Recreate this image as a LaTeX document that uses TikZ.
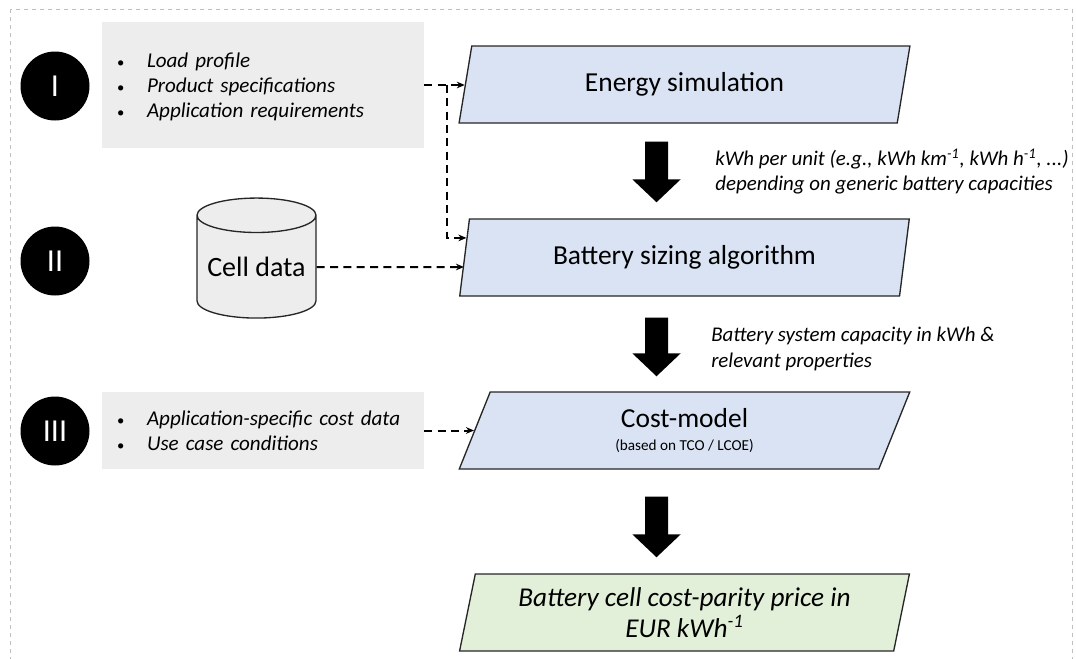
\documentclass[tikz,border=0pt]{standalone}
\usepackage{fontspec}
\setmainfont{Carlito}
\usetikzlibrary{shapes.geometric,arrows.meta,calc}
\definecolor{boxgray}{HTML}{EDEDED}
\definecolor{stepblue}{HTML}{DAE3F3}
\definecolor{stepgreen}{HTML}{E2F0D9}
\definecolor{edge}{HTML}{262626}
\newcommand{\bul}{{\upshape\fontsize{11}{11}\selectfont\textbullet}}
\newcommand{\toppad}{\rule{0pt}{17.6pt}}
\tikzset{every node/.style={inner sep=0pt}}
\tikzset{num/.style={circle,fill=black,text=white,minimum size=51.75pt,font=\fontsize{24}{26}\selectfont}}
\tikzset{inbox/.style={rectangle,fill=boxgray,minimum width=241.5pt,inner xsep=11.25pt,text width=219pt,align=left,font=\fontsize{15.8}{18.75}\selectfont\itshape}}
\tikzset{para/.style={trapezium,trapezium left angle=76,trapezium right angle=104,trapezium stretches=true,draw=edge,line width=1pt,minimum width=338.25pt,minimum height=57.75pt}}
\tikzset{feed/.style={draw=black,line width=1.5pt,dash pattern=on 6pt off 4pt,-{Stealth[length=6pt,width=5pt]}}}
\tikzset{bigarrow/.style={draw=black,line width=17.25pt,-{Triangle[length=17.25pt,width=35.25pt]}}}
\tikzset{note/.style={anchor=west,align=left,font=\fontsize{15.7}{18.75}\selectfont\itshape}}

\begin{document}
\begin{tikzpicture}[x=0.75pt,y=-0.75pt]
  \useasboundingbox (0,0) rectangle (1076,658);
  \draw[black!25,dashed,line width=0.5pt] (10,9) rectangle (1072,672);
  % phases
  \node[num] (n1) at (55,86) {I};
  \node[num] (n2) at (55,261) {II};
  \node[num] (n3) at (55,431) {III};
  % inputs
  \node[inbox,minimum height=94.5pt] (in1) at (263,85) {\begin{tabular}{@{}p{22.5pt}@{}l@{}}\toppad\bul & Load profile\\ \bul & Product specifications\\ \bul & Application requirements\end{tabular}};
  \node[cylinder,shape border rotate=90,aspect=0.35,draw=edge,fill=boxgray,line width=1pt,minimum width=89.25pt,minimum height=90pt,font=\fontsize{21}{24}\selectfont] (cell) at (256.5,267) {Cell data};
  \node[inbox,minimum height=57.75pt] (in3) at (263,430.5) {\begin{tabular}{@{}p{22.5pt}@{}l@{}}\toppad\bul & Application-specific cost data\\ \bul & Use case conditions\end{tabular}};
  % model steps
  \node[para,fill=stepblue,font=\fontsize{20.6}{22}\selectfont] (energy) at (684.5,84.5) {Energy simulation};
  \node[para,fill=stepblue,font=\fontsize{20.6}{22}\selectfont] (sizing) at (684.5,257.5) {Battery sizing algorithm};
  \node[para,fill=stepblue,align=center,font=\fontsize{20.6}{18.75}\selectfont] (cost) at (684.5,430.5) {Cost-model\\[-1.5pt]{\fontsize{11.4}{12}\selectfont (based on TCO / LCOE)}};
  \node[para,fill=stepgreen,align=center,font=\fontsize{20.4}{23.25}\selectfont\itshape] (result) at (684.5,612.5) {Battery cell cost-parity price in\\EUR kWh\textsuperscript{-1}};
  % notes
  \node[note] (lab1) at (715,171.5) {kWh per unit (e.g., kWh km\textsuperscript{-1}, kWh h\textsuperscript{-1}, ...)\\depending on generic battery capacities};
  \node[note,font=\fontsize{15.7}{19.5}\selectfont\itshape] (lab2) at (711,349) {Battery system capacity in kWh \&\\relevant properties};
  % flows
  \coordinate (split) at ([xshift=17pt]in1.east);
  \draw[feed] (in1) -- (in1 -| energy.west);
  \draw[feed] (split) |- ($(sizing.bottom left corner)!0.75!(sizing.top left corner)$);
  \draw[feed] (cell) -- (cell -| sizing.west);
  \draw[feed] (in3) -- (in3 -| cost.west);
  \draw[bigarrow,shorten <=13.5pt,shorten >=12pt] ([xshift=-21pt]energy.south) -- ([xshift=-21pt]sizing.north);
  \draw[bigarrow,shorten <=15.75pt,shorten >=11.25pt] ([xshift=-21pt]sizing.south) -- ([xshift=-21pt]cost.north);
  \draw[bigarrow,shorten <=20.25pt,shorten >=12pt] ([xshift=-21pt]cost.south) -- ([xshift=-21pt]result.north);
\end{tikzpicture}
\end{document}
